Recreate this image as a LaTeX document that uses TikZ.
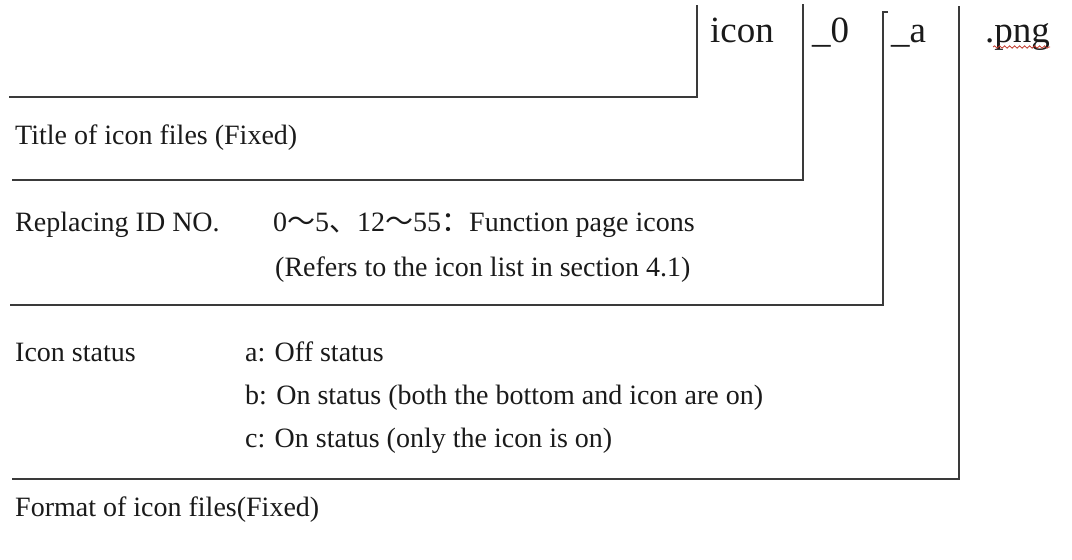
\documentclass[tikz,border=0pt]{standalone}
\usepackage{fontspec}
\setmainfont{Liberation Serif}
\newfontfamily\cjk{Noto Sans CJK SC}
\usepackage{xcolor}
\definecolor{cLine}{HTML}{3A3A3A}
\definecolor{cText}{HTML}{1A1A1A}
\definecolor{cSpell}{HTML}{C0392B}
\usetikzlibrary{positioning,decorations.pathmorphing}
\tikzset{
  node-part/.style={anchor=base west,inner sep=0pt,text=cText,font=\fontsize{37}{40}\selectfont},
  node-label/.style={anchor=base west,inner sep=0pt,text=cText,font=\fontsize{28}{32}\selectfont},
  line-bracket/.style={draw=cLine,line width=2pt},
  line-spell/.style={draw=cSpell,line width=0.8pt,decorate,
    decoration={snake,amplitude=1.2pt,segment length=5pt}},
}
\begin{document}
\begin{tikzpicture}[x=1pt,y=-1pt]
  \useasboundingbox (0,0) rectangle (1072,560);
  % file name parts
  \node[node-part] (pIcon) at (710,42) {icon};
  \node[node-part] (pId) at (812,42) {\_0};
  \node[node-part] (pState) at (891,42) {\_a};
  \node[node-part] (pExt) at (985,42) {.png};
  \draw[line-spell] ([xshift=8pt,yshift=-5pt]pExt.base west) -- ([yshift=-5pt]pExt.base east);
  % bracket corners
  \coordinate (t1) at (697,5);   \coordinate (e1) at (9,97);
  \coordinate (t2) at (803,4);   \coordinate (e2) at (12,180);
  \coordinate (t3) at (883,12);  \coordinate (e3) at (10,305);
  \coordinate (t4) at (959,6);   \coordinate (e4) at (12,479);
  \draw[line-bracket] (t1) |- (e1);
  \draw[line-bracket] (t2) |- (e2);
  \draw[line-bracket] ([xshift=5pt]t3) -- (t3) |- (e3);
  \draw[line-bracket] (t4) |- (e4);
  % descriptions
  \node[node-label] (title) at (15,144) {Title of icon files (Fixed)};
  \node[node-label] (idName) at (15,231) {Replacing ID NO.};
  \node[node-label] (idRange) at (273,231) {0{\cjk ～}5{\cjk 、}12{\cjk ～}55{\cjk ：}Function page icons};
  \node[node-label] (idRef) at (275,276) {(Refers to the icon list in section 4.1)};
  \node[node-label] (stName) at (15,361) {Icon status};
  \node[node-label] (stA) at (245,361) {a: Off status};
  \node[node-label] (stB) at (245,404) {b: On status (both the bottom and icon are on)};
  \node[node-label] (stC) at (245,447) {c: On status (only the icon is on)};
  \node[node-label] (fmt) at (15,516) {Format of icon files(Fixed)};
\end{tikzpicture}
\end{document}
